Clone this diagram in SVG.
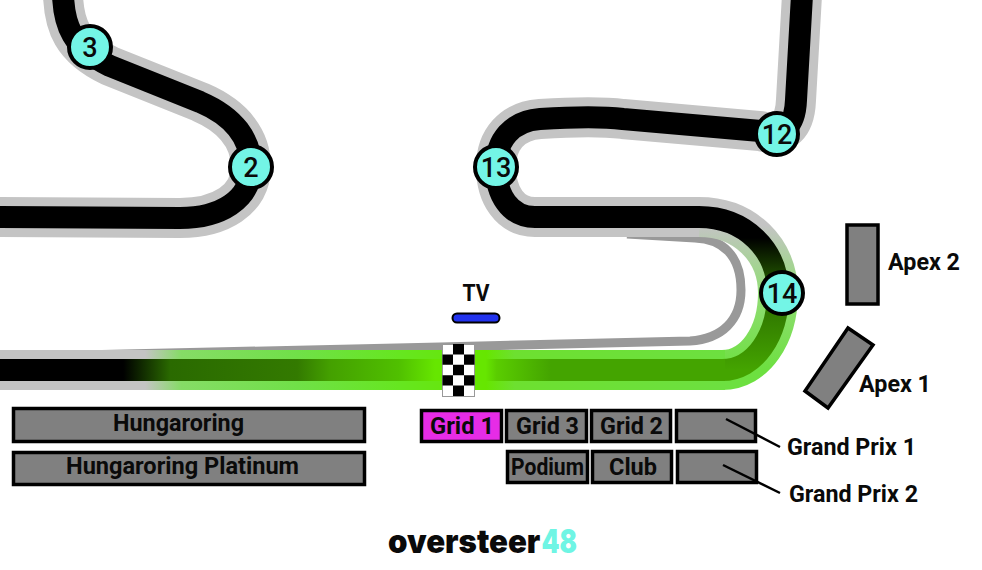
<svg xmlns="http://www.w3.org/2000/svg" width="982" height="570" viewBox="0 0 982 570">
<style>
text{font-family:Roboto,"Liberation Sans",sans-serif;font-weight:700;fill:#0a0a0a;font-size:24px}
.o{fill:none;stroke:#c4c4c4;stroke-width:40}
.i{fill:none;stroke:#000;stroke-width:22}
.box{fill:#808080;stroke:#000;stroke-width:3.5}
.turn circle{fill:#73f5e6;stroke:#000;stroke-width:4}
.turn text{font-weight:500;font-size:27px;text-anchor:middle}
.lead{stroke:#000;stroke-width:2.5;fill:none}
.logo{font-family:Inter,Roboto,sans-serif;font-weight:900;font-size:33px}
</style>
<defs>
<linearGradient id="hi" gradientUnits="userSpaceOnUse" x1="0" y1="0" x2="725" y2="0">
<stop offset="0.17" stop-color="#000"/><stop offset="0.235" stop-color="#2a6a00"/><stop offset="0.41" stop-color="#337a00"/><stop offset="0.455" stop-color="#44a000"/><stop offset="0.55" stop-color="#50c000"/><stop offset="0.6" stop-color="#66e600"/><stop offset="0.67" stop-color="#66e600"/><stop offset="0.685" stop-color="#5acd00"/><stop offset="0.76" stop-color="#44a400"/><stop offset="1" stop-color="#44a400"/>
</linearGradient>
<linearGradient id="ho" gradientUnits="userSpaceOnUse" x1="0" y1="0" x2="725" y2="0">
<stop offset="0.2" stop-color="#c4c4c4"/><stop offset="0.25" stop-color="#86dc66"/><stop offset="0.41" stop-color="#70e048"/><stop offset="0.55" stop-color="#66e620"/><stop offset="0.67" stop-color="#66e600"/><stop offset="0.71" stop-color="#6de030"/><stop offset="1" stop-color="#6de040"/>
</linearGradient>
<linearGradient id="vi" gradientUnits="userSpaceOnUse" x1="0" y1="238" x2="0" y2="370">
<stop offset="0" stop-color="#000"/><stop offset="0.4" stop-color="#2a6a00"/><stop offset="1" stop-color="#44a400"/>
</linearGradient>
<linearGradient id="vo" gradientUnits="userSpaceOnUse" x1="0" y1="225" x2="0" y2="370">
<stop offset="0" stop-color="#c4c4c4"/><stop offset="0.45" stop-color="#93dc78"/><stop offset="1" stop-color="#6de040"/>
</linearGradient>
</defs>
<g id="track">
<path d="M80,355 L440,347 L690,341 C722,339 741,320 741,290 C741,255 722,239 695,238 L627,234" fill="none" stroke="#999" stroke-width="9"/>
<path class="o" d="M63,-5 C64,25 72,48 110,66 L200,102 C235,117 251,140 251,167 C251,200 220,218 180,218 L-5,217"/>
<path class="o" d="M802,-5 L796,100 C795,125 785,137 760,131 L623,119 C600,116 570,117 540,119 C512,121 496,140 496,167 C496,195 510,217 535,217 L700,217"/>
<path style="stroke:url(#vo)" class="o" d="M699,217 C745,217 778,250 778,293 C778,335 755,370 722,370"/>
<path style="stroke:url(#ho)" class="o" d="M725,370 L-5,370"/>
<path class="i" d="M63,-5 C64,25 72,48 110,66 L200,102 C235,117 251,140 251,167 C251,200 220,218 180,218 L-5,217"/>
<path class="i" d="M802,-5 L796,100 C795,125 785,137 760,131 L623,119 C600,116 570,117 540,119 C512,121 496,140 496,167 C496,195 510,217 535,217 L700,217"/>
<path style="stroke:url(#vi)" class="i" d="M699,217 C745,217 778,250 778,293 C778,335 755,370 722,370"/>
<path style="stroke:url(#hi)" class="i" d="M725,370 L-5,370"/>
</g>
<g id="start-line">
<rect x="442.500" y="344.500" width="32" height="52" fill="#fff" stroke="#999" stroke-width="1"/>
<path d="M453,344h11v10.400h-11zM442.500,354.400h10.500v10.400h-10.500zM464,354.400h10.500v10.400h-10.500zM453,364.800h11v10.400h-11zM442.500,375.200h10.500v10.400h-10.500zM464,375.200h10.500v10.400h-10.500zM453,385.600h11v10.400h-11z" fill="#000"/>
</g>
<g id="tv">
<rect x="452.500" y="313.500" width="47" height="9" rx="4.500" fill="#2233ee" stroke="#000" stroke-width="2"/>
<text x="476" y="301" text-anchor="middle" textLength="27" lengthAdjust="spacingAndGlyphs">TV</text>
</g>
<g id="turn-3" class="turn"><circle cx="90" cy="47" r="21"/><text x="90" y="56.500">3</text></g>
<g id="turn-2" class="turn"><circle cx="251" cy="167" r="21"/><text x="251" y="176.500">2</text></g>
<g id="turn-13" class="turn"><circle cx="496" cy="167" r="21"/><text x="496" y="176.500">13</text></g>
<g id="turn-12" class="turn"><circle cx="777" cy="134" r="21"/><text x="777" y="143.500">12</text></g>
<g id="turn-14" class="turn"><circle cx="782" cy="293" r="21"/><text x="782" y="302.500">14</text></g>
<g id="apex-2"><rect class="box" x="847" y="225" width="31" height="79"/><text x="888" y="270" textLength="72" lengthAdjust="spacingAndGlyphs">Apex 2</text></g>
<g id="apex-1"><polygon class="box" points="848,328 873,345 828,408 805,391"/><text x="859" y="392" textLength="72" lengthAdjust="spacingAndGlyphs">Apex 1</text></g>
<g id="hungaroring"><rect class="box" x="13.500" y="408.500" width="351" height="33"/><text x="113" y="431" textLength="131" lengthAdjust="spacingAndGlyphs">Hungaroring</text></g>
<g id="hungaroring-platinum"><rect class="box" x="13.500" y="452.500" width="351" height="32"/><text x="66" y="474" textLength="233" lengthAdjust="spacingAndGlyphs">Hungaroring Platinum</text></g>
<g id="grid-1"><rect class="box" style="fill:#e62ce6" x="421.500" y="410.500" width="80" height="31"/><text x="430" y="434" textLength="64" lengthAdjust="spacingAndGlyphs">Grid 1</text></g>
<g id="grid-3"><rect class="box" x="506.500" y="410.500" width="80" height="31"/><text x="516" y="434" textLength="63" lengthAdjust="spacingAndGlyphs">Grid 3</text></g>
<g id="grid-2"><rect class="box" x="591.500" y="410.500" width="79" height="31"/><text x="600" y="434" textLength="63" lengthAdjust="spacingAndGlyphs">Grid 2</text></g>
<g id="grand-prix-1"><rect class="box" x="676.500" y="410.500" width="79" height="31"/><text x="787" y="455" textLength="129" lengthAdjust="spacingAndGlyphs">Grand Prix 1</text></g>
<g id="podium"><rect class="box" x="507.500" y="451.500" width="80" height="31"/><text x="511" y="475" textLength="73" lengthAdjust="spacingAndGlyphs" style="font-size:23px">Podium</text></g>
<g id="club"><rect class="box" x="592.500" y="451.500" width="79" height="31"/><text x="609" y="475" textLength="48" lengthAdjust="spacingAndGlyphs">Club</text></g>
<g id="grand-prix-2"><rect class="box" x="677.500" y="451.500" width="79" height="31"/><text x="789" y="502" textLength="129" lengthAdjust="spacingAndGlyphs">Grand Prix 2</text></g>
<g id="connectors">
<path class="lead" d="M726,419 L780,447"/>
<path class="lead" d="M723,465 L780,493"/>
</g>
<g id="logo"><text class="logo" transform="translate(388,553) scale(.945,1)">oversteer</text><text class="logo" transform="translate(541.500,553) scale(.78,1)" style="fill:#6ff5e4">48</text></g>
</svg>
